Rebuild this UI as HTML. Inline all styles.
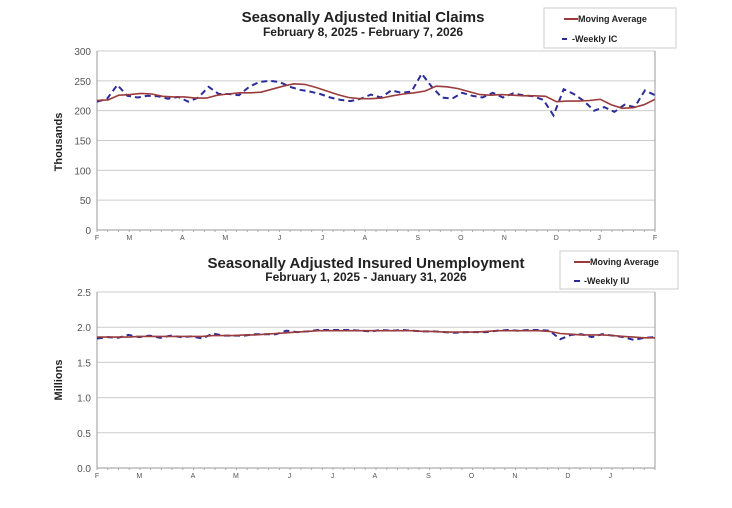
<!DOCTYPE html>
<html><head><meta charset="utf-8"><style>
body{margin:0;background:#fff;width:732px;height:503px;overflow:hidden;font-family:"Liberation Sans",sans-serif}
</style></head><body>
<svg id="svg" width="732" height="503" xmlns="http://www.w3.org/2000/svg" font-family="Liberation Sans, sans-serif">
<text x="363" y="22" text-anchor="middle" font-size="15" font-weight="bold" fill="#222">Seasonally Adjusted Initial Claims</text>
<text x="363" y="36" text-anchor="middle" font-size="12" font-weight="bold" fill="#222">February 8, 2025 - February 7, 2026</text>
<text x="366" y="268" text-anchor="middle" font-size="15" font-weight="bold" fill="#222">Seasonally Adjusted Insured Unemployment</text>
<text x="366" y="281" text-anchor="middle" font-size="12" font-weight="bold" fill="#222">February 1, 2025 - January 31, 2026</text>
<g>
<rect x="544" y="8" width="132" height="40" fill="#fff" stroke="#ccc"/>
<line x1="564" y1="19" x2="578" y2="19" stroke="#9b3b3b" stroke-width="2"/>
<text x="578" y="22" font-size="9" font-weight="bold" fill="#222">Moving Average</text>
<line x1="562" y1="39" x2="567" y2="39" stroke="#2b2b99" stroke-width="2"/>
<text x="572" y="42" font-size="9" font-weight="bold" fill="#222">-Weekly IC</text>
</g>
<g>
<rect x="560" y="251" width="118" height="38" fill="#fff" stroke="#ccc"/>
<line x1="574" y1="262" x2="590" y2="262" stroke="#9b3b3b" stroke-width="2"/>
<text x="590" y="265" font-size="9" font-weight="bold" fill="#222">Moving Average</text>
<line x1="574" y1="281" x2="580" y2="281" stroke="#2b2b99" stroke-width="2"/>
<text x="584" y="284" font-size="9" font-weight="bold" fill="#222">-Weekly IU</text>
</g>
<text transform="translate(62,142) rotate(-90)" text-anchor="middle" font-size="11" font-weight="bold" fill="#222">Thousands</text>
<text transform="translate(62,380) rotate(-90)" text-anchor="middle" font-size="11" font-weight="bold" fill="#222">Millions</text>
</svg>
<script>
const months1=["F","M","A","M","J","J","A","S","O","N","D","J","F"];
const monthPos1=[0,0.058,0.153,0.23,0.327,0.404,0.48,0.575,0.652,0.73,0.823,0.9,1];
const ticks1=[0,50,100,150,200,250,300];
const weeklyIC=[215,220,243,225,222,225,224,220,223,215,222,240,228,228,226,240,248,250,248,240,235,232,228,222,218,216,220,227,222,234,230,232,262,240,222,220,230,225,222,230,222,229,226,224,218,192,236,228,216,200,206,198,210,206,234,226];
const maIC=[217,218,226,227,229,228,224,223,223,221,221,226,228,230,230,231,236,241,245,244,239,233,227,222,220,220,221,225,228,230,233,241,240,237,232,227,226,227,226,225,225,224,215,216,216,217,219,210,204,205,210,219];
const months2=["F","M","A","M","J","J","A","S","O","N","D","J"];
const monthPos2=[0,0.076,0.172,0.249,0.345,0.422,0.498,0.594,0.671,0.749,0.844,0.92];
const ticks2=[0,0.5,1.0,1.5,2.0,2.5];
const weeklyIU=[1.84,1.86,1.85,1.89,1.86,1.88,1.85,1.88,1.86,1.87,1.84,1.91,1.88,1.88,1.88,1.90,1.90,1.90,1.95,1.93,1.94,1.96,1.96,1.96,1.96,1.95,1.94,1.96,1.95,1.96,1.95,1.94,1.94,1.93,1.92,1.93,1.93,1.93,1.95,1.96,1.95,1.96,1.96,1.95,1.83,1.89,1.90,1.86,1.90,1.88,1.86,1.82,1.85,1.86];
const maIU=[1.86,1.86,1.86,1.86,1.87,1.87,1.87,1.87,1.87,1.87,1.87,1.88,1.88,1.88,1.89,1.89,1.90,1.91,1.92,1.93,1.94,1.95,1.95,1.95,1.95,1.95,1.95,1.95,1.95,1.95,1.95,1.94,1.94,1.93,1.93,1.93,1.93,1.94,1.95,1.95,1.95,1.95,1.95,1.94,1.91,1.90,1.89,1.89,1.89,1.88,1.87,1.86,1.85,1.85];
const svg=document.getElementById('svg');
const NS='http://www.w3.org/2000/svg';
function mk(t,a,p){const e=document.createElementNS(NS,t);for(const k in a)e.setAttribute(k,a[k]);(p||svg).appendChild(e);return e;}
function chart(id,x0,x1,yTop,yBot,ymax,ticks,fmt,months,mpos,weekly,ma){
  const g=mk('g',{});
  
  
  const ys=v=>yBot-(v/ymax)*(yBot-yTop);
  ticks.forEach(t=>{
    const l=mk('line',{x1:x0,x2:x1,y1:ys(t),y2:ys(t),stroke:t==0?'#999':'#ccc','stroke-width':1},g);
    
    
    const tx=mk('text',{x:x0-6,y:ys(t)+4,'text-anchor':'end','font-size':10,fill:'#555'},g);
    tx.textContent=fmt(t);
    
    
  });
  mk('line',{x1:x0,x2:x0,y1:yTop,y2:yBot,stroke:'#999'},g);
  mk('line',{x1:x1,x2:x1,y1:yTop,y2:yBot,stroke:'#999'},g);
  for(let i=0;i<=52;i++){const x=x0+(x1-x0)*i/52;mk('line',{x1:x,x2:x,y1:yBot,y2:yBot+2,stroke:'#aaa'},g);}
  months.forEach((m,i)=>{
    const tx=mk('text',{x:x0+(x1-x0)*mpos[i],y:yBot+10,'text-anchor':'middle','font-size':7,fill:'#555'},g);
    tx.textContent=m;
    
    
  });
  const pts=a=>a.map((v,i)=>(x0+(x1-x0)*i/(a.length-1)).toFixed(1)+','+ys(v).toFixed(1)).join(' ');
  const w=mk('polyline',{points:pts(weekly),fill:'none',stroke:'#2b2b99','stroke-width':2,'stroke-dasharray':'6,4'},g);
  
  
  const m=mk('polyline',{points:pts(ma),fill:'none',stroke:'#9b3b3b','stroke-width':1.6},g);
  
  
}
chart('initial-claims-chart',97,655,51,230,300,ticks1,t=>String(t),months1,monthPos1,weeklyIC,maIC);
chart('insured-unemployment-chart',97,655,292,468,2.5,ticks2,t=>t.toFixed(1),months2,monthPos2,weeklyIU,maIU);
</script>
</body></html>
